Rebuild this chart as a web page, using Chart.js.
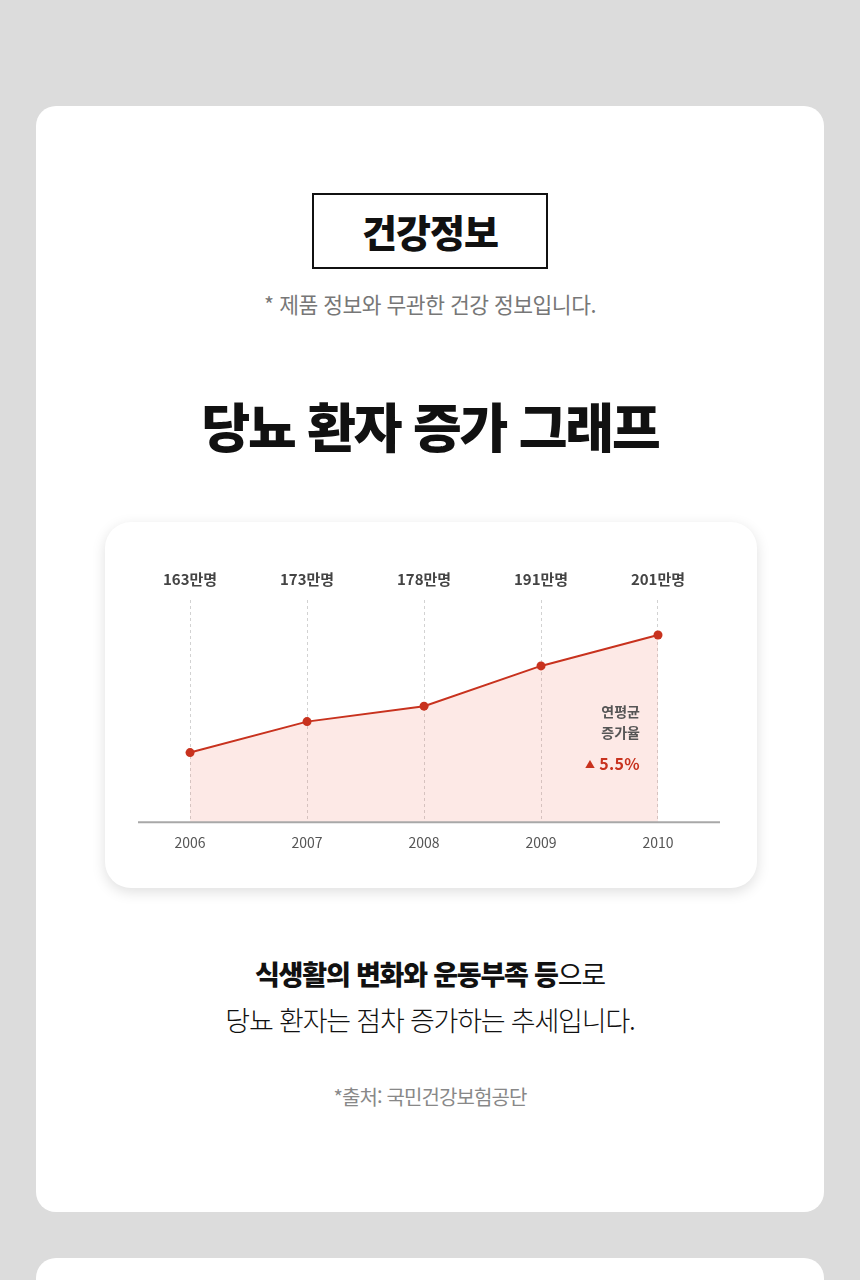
<!DOCTYPE html>
<html lang="ko">
<head>
<meta charset="utf-8">
<script src="https://cdn.jsdelivr.net/npm/chart.js@4/dist/chart.umd.min.js"></script>
<style>
  html, body { margin: 0; padding: 0; }
  body {
    width: 860px; height: 1280px; background: #dcdcdc; position: relative; overflow: hidden;
    font-family: "Noto Sans CJK KR", "Noto Sans", sans-serif;
  }
  .card {
    position: absolute; left: 36px; top: 106px; width: 788px; height: 1106px;
    background: #fff; border-radius: 20px;
  }
  .card2 {
    position: absolute; left: 36px; top: 1258px; width: 788px; height: 200px;
    background: #fff; border-radius: 20px;
  }
  .tag {
    position: absolute; left: 312px; top: 193px; width: 232px; height: 72px;
    border: 2px solid #111; text-align: center; line-height: 72px;
    font-size: 38px; font-weight: 900; color: #111; letter-spacing: -1px;
  }
  .note {
    position: absolute; left: 0; width: 860px; top: 288px; text-align: center;
    font-size: 21.5px; color: #777; letter-spacing: -0.5px;
  }
  .title {
    position: absolute; left: 0; width: 860px; top: 387px; text-align: center;
    font-size: 53px; font-weight: 900; color: #111; letter-spacing: -2.2px;
  }
  .chartbox {
    position: absolute; left: 105px; top: 522px; width: 652px; height: 366px;
    background: #fff; border-radius: 26px;
    box-shadow: 0 4px 14px rgba(0,0,0,0.13);
  }
  .chartbox canvas { position: absolute; left: 0; top: 0; }
  .avg {
    position: absolute; right: 220px; top: 701px; text-align: right;
    font-size: 14px; font-weight: 700; color: #555; line-height: 21px;
  }
  .rate {
    position: absolute; right: 220px; top: 751px; text-align: right;
    font-size: 16px; font-weight: 700; color: #c8321e; letter-spacing: 0.3px;
  }
  .rate small { font-size: 10px; margin-right: 4px; vertical-align: 2px; }
  .desc {
    position: absolute; left: 0; width: 860px; top: 951px; text-align: center;
    font-size: 27px; color: #111; line-height: 46px; letter-spacing: -1.2px;
  }
  .desc b { font-weight: 900; }
  .desc .l2 { font-weight: 300; }
  .src {
    position: absolute; left: 0; width: 860px; top: 1082px; text-align: center;
    font-size: 20px; color: #888; letter-spacing: -0.9px;
  }
</style>
</head>
<body>
<div class="card"></div>
<div class="card2"></div>
<div class="tag">건강정보</div>
<div class="note">* 제품 정보와 무관한 건강 정보입니다.</div>
<div class="title">당뇨 환자 증가 그래프</div>

<div class="chartbox"><canvas id="chart" width="652" height="366"></canvas></div>
<div class="avg">연평균<br>증가율</div>
<div class="rate"><small>▲</small>5.5%</div>

<div class="desc"><b>식생활의 변화와 운동부족 등</b>으로<br><span class="l2">당뇨 환자는 점차 증가하는 추세입니다.</span></div>
<div class="src">*출처: 국민건강보험공단</div>

<script>
// values
const years = [2006, 2007, 2008, 2009, 2010];
const patients = [163, 173, 178, 191, 201];      // 만명
const valueLabels = ['163만명', '173만명', '178만명', '191만명', '201만명'];

const lineRed = '#c8321e';

const setYearTicks = scale => { scale.ticks = years.map(v => ({ value: v })); };

// solid axis line under the dashed year guides
const axisLine = {
  id: 'axisLine',
  afterDatasetsDraw(chart) {
    const { ctx, chartArea } = chart;
    ctx.save();
    ctx.setLineDash([]);
    ctx.strokeStyle = '#a8a8a8';
    ctx.lineWidth = 2;
    ctx.beginPath();
    ctx.moveTo(chartArea.left, chartArea.bottom);
    ctx.lineTo(chartArea.right, chartArea.bottom);
    ctx.stroke();
    ctx.restore();
  }
};

new Chart(document.getElementById('chart'), {
  type: 'line',
  data: {
    datasets: [{
      data: years.map((y, i) => ({ x: y, y: patients[i] })),
      borderColor: lineRed,
      borderWidth: 2,
      backgroundColor: 'rgba(240, 110, 90, 0.15)',
      fill: 'start',
      tension: 0,
      pointRadius: 4.5,
      pointBackgroundColor: lineRed,
      pointBorderWidth: 0,
      xAxisID: 'x',
      yAxisID: 'y'
    }]
  },
  options: {
    responsive: false,
    animation: false,
    layout: { padding: { left: 33, right: 37, top: 36, bottom: 25 } },
    plugins: { legend: { display: false }, tooltip: { enabled: false } },
    scales: {
      x: {
        type: 'linear',
        position: 'bottom',
        min: 2005.555,
        max: 2010.53,
        afterBuildTicks: setYearTicks,
        grid: { display: true, color: '#d2d2d2', lineWidth: 1, drawTicks: false },
        border: { display: false, dash: [3, 3] },
        ticks: {
          padding: 12,
          color: '#555',
          font: { family: 'Noto Sans CJK KR', size: 14 },
          callback: v => String(v)
        }
      },
      xTop: {
        type: 'linear',
        position: 'top',
        min: 2005.555,
        max: 2010.53,
        afterBuildTicks: setYearTicks,
        grid: { display: false, drawTicks: false },
        border: { display: false },
        ticks: {
          padding: 12,
          color: '#444',
          font: { family: 'Noto Sans CJK KR', size: 15, weight: 'bold' },
          callback: v => valueLabels[years.indexOf(v)]
        }
      },
      y: {
        display: false,
        min: 140.5,
        max: 212.3
      }
    }
  },
  plugins: [axisLine]
});
</script>
</body>
</html>
